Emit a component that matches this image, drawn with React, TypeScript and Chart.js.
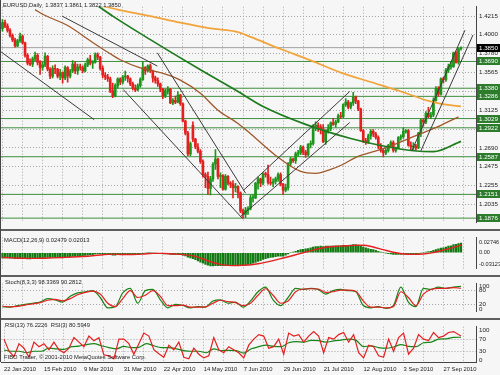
import React, { useEffect, useRef } from "react";
import { Chart, registerables } from "chart.js";

Chart.register(...registerables);

// ---------------- data ----------------
const dateLabels = ["22 Jan 2010", "15 Feb 2010", "9 Mar 2010", "31 Mar 2010", "22 Apr 2010", "14 May 2010", "7 Jun 2010", "29 Jun 2010", "21 Jul 2010", "12 Aug 2010", "3 Sep 2010", "27 Sep 2010"];
const dateLabelBars = [0, 16, 32, 48, 64, 80, 96, 112, 128, 144, 160, 176];
const gridBars = [0, 8, 16, 24, 32, 40, 48, 56, 64, 72, 80, 88, 96, 104, 112, 120, 128, 136, 144, 152, 160, 168, 176, 184];

const opens = [
  1.4070, 1.4140, 1.4100, 1.4050, 1.3990, 1.3940, 1.3870, 1.3930, 1.3985, 1.3905,
  1.3760, 1.3670, 1.3660, 1.3720, 1.3760, 1.3680, 1.3620, 1.3650, 1.3750, 1.3600,
  1.3520, 1.3610, 1.3600, 1.3520, 1.3560, 1.3500, 1.3620, 1.3520, 1.3580, 1.3660,
  1.3580, 1.3625, 1.3620, 1.3580, 1.3650, 1.3710, 1.3670, 1.3680, 1.3770, 1.3740,
  1.3610, 1.3530, 1.3510, 1.3490, 1.3350, 1.3290, 1.3410, 1.3490, 1.3450, 1.3510,
  1.3520, 1.3490, 1.3430, 1.3380, 1.3360, 1.3410, 1.3480, 1.3620, 1.3580, 1.3640,
  1.3580, 1.3500, 1.3470, 1.3430, 1.3370, 1.3290, 1.3350, 1.3370, 1.3210, 1.3240,
  1.3220, 1.3300, 1.3200, 1.3000, 1.2860, 1.2620, 1.2950, 1.2790, 1.2700, 1.2650,
  1.2530, 1.2380, 1.2360, 1.2220, 1.2330, 1.2500, 1.2560, 1.2360, 1.2370, 1.2210,
  1.2360, 1.2280, 1.2270, 1.2230, 1.2240, 1.2170, 1.1960, 1.1920, 1.1970, 1.1990,
  1.2110, 1.2110, 1.2280, 1.2330, 1.2280, 1.2390, 1.2380, 1.2290, 1.2280, 1.2300,
  1.2330, 1.2380, 1.2270, 1.2200, 1.2230, 1.2510, 1.2560, 1.2540, 1.2620, 1.2630,
  1.2700, 1.2640, 1.2610, 1.2730, 1.2740, 1.2940, 1.2950, 1.2930, 1.2910, 1.2760,
  1.2890, 1.2910, 1.2980, 1.2960, 1.2990, 1.3060, 1.3050, 1.3190, 1.3220, 1.3160,
  1.3210, 1.3280, 1.3230, 1.3140, 1.2890, 1.2770, 1.2750, 1.2830, 1.2880, 1.2850,
  1.2810, 1.2710, 1.2660, 1.2630, 1.2660, 1.2720, 1.2750, 1.2660, 1.2690, 1.2810,
  1.2820, 1.2880, 1.2890, 1.2720, 1.2700, 1.2710, 1.2690, 1.2860, 1.3010, 1.2990,
  1.3090, 1.3050, 1.3070, 1.3240, 1.3380, 1.3310, 1.3490, 1.3480, 1.3590, 1.3630,
  1.3630, 1.3790, 1.3680, 1.3837,
];
const highs = [
  1.4175, 1.4170, 1.4125, 1.4070, 1.4010, 1.3960, 1.3945, 1.4020, 1.3995, 1.3915,
  1.3780, 1.3720, 1.3740, 1.3800, 1.3780, 1.3700, 1.3680, 1.3790, 1.3760, 1.3620,
  1.3640, 1.3650, 1.3610, 1.3600, 1.3570, 1.3640, 1.3630, 1.3600, 1.3700, 1.3690,
  1.3660, 1.3660, 1.3640, 1.3670, 1.3730, 1.3760, 1.3700, 1.3790, 1.3790, 1.3750,
  1.3640, 1.3560, 1.3540, 1.3510, 1.3440, 1.3430, 1.3500, 1.3500, 1.3530, 1.3580,
  1.3530, 1.3500, 1.3450, 1.3420, 1.3430, 1.3500, 1.3690, 1.3630, 1.3650, 1.3660,
  1.3590, 1.3520, 1.3500, 1.3440, 1.3380, 1.3370, 1.3400, 1.3380, 1.3260, 1.3290,
  1.3340, 1.3310, 1.3210, 1.3010, 1.2880, 1.2760, 1.2990, 1.2800, 1.2740, 1.2670,
  1.2550, 1.2400, 1.2410, 1.2360, 1.2520, 1.2670, 1.2570, 1.2400, 1.2380, 1.2380,
  1.2370, 1.2300, 1.2310, 1.2280, 1.2250, 1.2180, 1.1980, 1.2000, 1.2010, 1.2140,
  1.2150, 1.2290, 1.2350, 1.2340, 1.2400, 1.2410, 1.2490, 1.2350, 1.2330, 1.2350,
  1.2400, 1.2400, 1.2280, 1.2270, 1.2520, 1.2580, 1.2570, 1.2640, 1.2660, 1.2720,
  1.2710, 1.2660, 1.2740, 1.2770, 1.2960, 1.2990, 1.2980, 1.2960, 1.2960, 1.2900,
  1.2960, 1.2990, 1.3030, 1.3010, 1.3080, 1.3100, 1.3200, 1.3260, 1.3240, 1.3220,
  1.3333, 1.3290, 1.3240, 1.3150, 1.2900, 1.2800, 1.2850, 1.2900, 1.2900, 1.2870,
  1.2830, 1.2740, 1.2680, 1.2680, 1.2730, 1.2770, 1.2770, 1.2700, 1.2820, 1.2840,
  1.2922, 1.2900, 1.2900, 1.2760, 1.2750, 1.2730, 1.2870, 1.3020, 1.3029, 1.3110,
  1.3160, 1.3100, 1.3270, 1.3400, 1.3400, 1.3500, 1.3510, 1.3610, 1.3660, 1.3690,
  1.3800, 1.3810, 1.3850, 1.3861,
];
const lows = [
  1.4040, 1.4080, 1.4030, 1.3970, 1.3920, 1.3855, 1.3860, 1.3910, 1.3890, 1.3740,
  1.3650, 1.3640, 1.3630, 1.3700, 1.3650, 1.3540, 1.3590, 1.3630, 1.3580, 1.3490,
  1.3500, 1.3550, 1.3500, 1.3480, 1.3440, 1.3480, 1.3450, 1.3500, 1.3560, 1.3550,
  1.3540, 1.3590, 1.3560, 1.3570, 1.3630, 1.3650, 1.3610, 1.3670, 1.3710, 1.3590,
  1.3500, 1.3480, 1.3460, 1.3330, 1.3270, 1.3280, 1.3380, 1.3420, 1.3430, 1.3470,
  1.3450, 1.3410, 1.3360, 1.3340, 1.3350, 1.3390, 1.3470, 1.3540, 1.3570, 1.3560,
  1.3450, 1.3440, 1.3400, 1.3340, 1.3260, 1.3270, 1.3310, 1.3200, 1.3190, 1.3200,
  1.3210, 1.3180, 1.2990, 1.2840, 1.2600, 1.2600, 1.2760, 1.2680, 1.2630, 1.2510,
  1.2350, 1.2230, 1.2150, 1.2145, 1.2300, 1.2440, 1.2330, 1.2230, 1.2200, 1.2200,
  1.2260, 1.2230, 1.2110, 1.2180, 1.2110, 1.1940, 1.1876, 1.1880, 1.1920, 1.1970,
  1.2060, 1.2100, 1.2210, 1.2240, 1.2260, 1.2350, 1.2270, 1.2260, 1.2240, 1.2270,
  1.2300, 1.2250, 1.2151, 1.2180, 1.2200, 1.2480, 1.2520, 1.2510, 1.2590, 1.2610,
  1.2610, 1.2580, 1.2600, 1.2690, 1.2720, 1.2890, 1.2880, 1.2850, 1.2750, 1.2730,
  1.2860, 1.2890, 1.2950, 1.2930, 1.2980, 1.3030, 1.3040, 1.3170, 1.3140, 1.3140,
  1.3180, 1.3200, 1.3120, 1.2880, 1.2750, 1.2730, 1.2740, 1.2790, 1.2820, 1.2790,
  1.2680, 1.2640, 1.2587, 1.2610, 1.2640, 1.2690, 1.2640, 1.2640, 1.2680, 1.2780,
  1.2800, 1.2860, 1.2710, 1.2660, 1.2660, 1.2660, 1.2680, 1.2820, 1.2940, 1.2970,
  1.3040, 1.3030, 1.3050, 1.3230, 1.3286, 1.3300, 1.3440, 1.3460, 1.3560, 1.3600,
  1.3620, 1.3670, 1.3660, 1.3822,
];
const closes = [
  1.4140, 1.4100, 1.4050, 1.3990, 1.3940, 1.3870, 1.3930, 1.3985, 1.3905, 1.3760,
  1.3670, 1.3660, 1.3720, 1.3760, 1.3680, 1.3620, 1.3650, 1.3750, 1.3600, 1.3520,
  1.3610, 1.3600, 1.3520, 1.3560, 1.3500, 1.3620, 1.3520, 1.3580, 1.3660, 1.3580,
  1.3625, 1.3620, 1.3580, 1.3650, 1.3710, 1.3670, 1.3680, 1.3770, 1.3740, 1.3610,
  1.3530, 1.3510, 1.3490, 1.3350, 1.3290, 1.3410, 1.3490, 1.3450, 1.3510, 1.3520,
  1.3490, 1.3430, 1.3380, 1.3360, 1.3410, 1.3480, 1.3620, 1.3580, 1.3640, 1.3580,
  1.3500, 1.3470, 1.3430, 1.3370, 1.3290, 1.3350, 1.3370, 1.3210, 1.3240, 1.3220,
  1.3300, 1.3200, 1.3000, 1.2860, 1.2620, 1.2740, 1.2790, 1.2700, 1.2650, 1.2530,
  1.2380, 1.2360, 1.2220, 1.2330, 1.2500, 1.2560, 1.2360, 1.2370, 1.2210, 1.2360,
  1.2280, 1.2270, 1.2230, 1.2240, 1.2170, 1.1960, 1.1920, 1.1970, 1.1990, 1.2110,
  1.2110, 1.2280, 1.2330, 1.2280, 1.2390, 1.2380, 1.2290, 1.2280, 1.2300, 1.2330,
  1.2380, 1.2270, 1.2200, 1.2230, 1.2510, 1.2560, 1.2540, 1.2620, 1.2630, 1.2700,
  1.2640, 1.2610, 1.2730, 1.2740, 1.2940, 1.2950, 1.2930, 1.2910, 1.2760, 1.2890,
  1.2910, 1.2980, 1.2960, 1.2990, 1.3060, 1.3050, 1.3190, 1.3220, 1.3160, 1.3210,
  1.3280, 1.3230, 1.3140, 1.2890, 1.2770, 1.2750, 1.2830, 1.2880, 1.2850, 1.2810,
  1.2710, 1.2660, 1.2630, 1.2660, 1.2720, 1.2750, 1.2660, 1.2690, 1.2810, 1.2820,
  1.2880, 1.2890, 1.2720, 1.2700, 1.2710, 1.2690, 1.2860, 1.3010, 1.2990, 1.3090,
  1.3050, 1.3070, 1.3240, 1.3380, 1.3310, 1.3490, 1.3480, 1.3590, 1.3630, 1.3630,
  1.3790, 1.3680, 1.3837, 1.3850,
];

const priceTicks = [1.4215, 1.4, 1.378, 1.3565, 1.3345, 1.3125, 1.2905, 1.269, 1.2475, 1.2255, 1.2035];
const levelPrices = [1.369, 1.338, 1.3286, 1.3029, 1.2922, 1.2587, 1.2151, 1.1876];
const bidPrice = 1.385;

// moving averages (bar index, price)
const maSlowBars = [30, 41, 46, 59, 71, 83, 94, 99, 111, 123, 135, 147, 159, 170, 177, 183];
const maSlow = [1.44, 1.4324, 1.4291, 1.4215, 1.4139, 1.4073, 1.403, 1.3975, 1.3834, 1.3703, 1.3561, 1.3452, 1.3343, 1.3234, 1.319, 1.3169];
const maMidBars = [38, 44, 59, 79, 94, 104, 121, 139, 152, 164, 172, 183];
const maMid = [1.4335, 1.4215, 1.3943, 1.3594, 1.3343, 1.3169, 1.2962, 1.2798, 1.2711, 1.2656, 1.2645, 1.2765];
const maFastBars = [13, 16, 26, 36, 43, 47, 55, 63, 71, 79, 86, 94, 99, 109, 119, 125, 131, 136, 141, 152, 165, 175, 182];
const maFast = [1.429, 1.4237, 1.4106, 1.391, 1.3779, 1.371, 1.3616, 1.3561, 1.3474, 1.3321, 1.3125, 1.2972, 1.2853, 1.2602, 1.2417, 1.2395, 1.244, 1.25, 1.258, 1.268, 1.2831, 1.2951, 1.3049];

// trend lines [bar, price] pairs
const lineA = [[-1, 1.381], [36.6, 1.3016]];
const lineB = [[23.8, 1.4215], [61.8, 1.3637]];
const lineC = [[61.8, 1.379], [97, 1.2166]];
const lineD = [[48.2, 1.3365], [95.8, 1.1872]];
const lineE = [[96.2, 1.2199], [138.6, 1.3343]];
const lineF = [[95, 1.1893], [138.6, 1.2983]];
const lineG = [[163.4, 1.2656], [184.6, 1.4052]];
const lineH = [[167, 1.2656], [187.8, 1.3997]];

// MACD (thousandths)
const macdHistMilli = [
  -13, -13, -13, -14, -14, -15, -15, -14, -14, -15, -16, -16,
  -15, -14, -14, -14, -13, -12, -12, -12, -12, -12, -12, -12,
  -12, -11, -11, -10, -9, -9, -8, -8, -8, -7, -6, -5,
  -5, -3, -2, -2, -3, -3, -4, -5, -6, -6, -5, -5,
  -4, -4, -4, -4, -4, -4, -4, -3, -2, -1, 0, 0,
  -1, -1, -2, -2, -3, -3, -3, -4, -4, -4, -4, -5,
  -6, -8, -11, -13, -15, -18, -21, -24, -27, -30, -32, -34,
  -34, -33, -33, -33, -33, -33, -32, -32, -31, -31, -31, -32,
  -32, -31, -30, -28, -27, -25, -22, -20, -17, -15, -13, -12,
  -11, -10, -9, -9, -9, -6, -3, 0, 2, 4, 6, 8,
  9, 10, 11, 13, 15, 16, 16, 17, 16, 17, 17, 17,
  17, 18, 18, 18, 19, 19, 19, 20, 21, 21, 20, 18,
  15, 13, 11, 9, 8, 6, 4, 2, 0, -1, -2, -3,
  -4, -4, -4, -4, -3, -3, -4, -4, -4, -4, -3, -1,
  0, 2, 3, 4, 6, 8, 10, 12, 13, 15, 17, 18,
  21, 22, 24, 25,
];
const macdSignalBars = [0, 4, 8, 12, 16, 20, 24, 28, 32, 36, 40, 44, 48, 52, 56, 60, 64, 68, 72, 76, 80, 84, 88, 92, 96, 100, 104, 108, 112, 116, 120, 124, 128, 132, 136, 140, 144, 148, 152, 156, 160, 164, 168, 172, 176, 180, 183];
const macdSignalMilli = [-12, -13, -14, -14.5, -14, -13, -12, -11, -9.5, -7.5, -5, -3.5, -4.5, -4.5, -3.5, -1.5, -1.5, -3, -4.5, -8, -16, -25, -31, -33, -32, -30, -26, -20, -13.5, -7, 0, 7, 13, 16, 17.5, 19, 19.5, 15, 8, 1.5, -3, -4, -3, 0.5, 7, 14, 20];

// Stochastic & RSI
const oscBars = [0, 3, 6, 9, 12, 15, 18, 21, 24, 27, 30, 33, 36, 39, 42, 45, 48, 51, 54, 57, 60, 63, 66, 69, 72, 75, 78, 81, 84, 87, 90, 93, 96, 99, 102, 105, 108, 111, 114, 117, 120, 123, 126, 129, 132, 135, 138, 141, 144, 147, 150, 153, 156, 159, 162, 165, 168, 171, 174, 177, 180, 183];
const stochMain = [10, 8, 15, 20, 25, 30, 45, 40, 30, 55, 70, 75, 80, 50, 5, 10, 70, 90, 25, 80, 85, 40, 5, 20, 15, 5, 10, 8, 35, 40, 25, 30, 8, 35, 75, 95, 40, 15, 50, 90, 85, 90, 85, 65, 80, 85, 80, 75, 15, 5, 10, 3, 15, 95, 30, 10, 90, 85, 95, 90, 95, 98.3];
const stochSignal = [12, 9, 11, 17, 22, 28, 38, 42, 35, 45, 62, 72, 78, 65, 25, 10, 45, 80, 50, 60, 80, 55, 15, 15, 17, 8, 8, 9, 25, 38, 32, 28, 15, 25, 60, 88, 60, 25, 35, 75, 87, 88, 87, 72, 75, 82, 82, 77, 35, 8, 8, 5, 10, 75, 50, 15, 65, 85, 90, 90, 93, 90.3];
const rsi13 = [34, 30, 30, 25, 30, 30, 40, 38, 36, 45, 47, 52, 55, 48, 42, 38, 46, 42, 43, 55, 48, 42, 42, 38, 32, 30, 30, 25, 38, 32, 33, 32, 24, 38, 45, 50, 46, 45, 58, 62, 60, 66, 65, 60, 64, 67, 70, 66, 45, 48, 42, 40, 44, 52, 46, 45, 58, 60, 70, 71, 76, 76.2];
const rsi3Bars = [0, 2, 4, 6, 8, 10, 12, 14, 16, 18, 20, 22, 24, 26, 28, 30, 32, 34, 36, 38, 40, 42, 44, 46, 48, 50, 52, 54, 56, 58, 60, 62, 64, 66, 68, 70, 72, 74, 76, 78, 80, 82, 84, 86, 88, 90, 92, 94, 96, 98, 100, 102, 104, 106, 108, 110, 112, 114, 116, 118, 120, 122, 124, 126, 128, 130, 132, 134, 136, 138, 140, 142, 144, 146, 148, 150, 152, 154, 156, 158, 160, 162, 164, 166, 168, 170, 172, 174, 176, 178, 180, 182, 183];
const rsi3 = [70, 30, 12, 55, 40, 10, 60, 45, 55, 35, 60, 35, 25, 40, 75, 60, 45, 80, 65, 75, 18, 15, 5, 70, 70, 55, 20, 55, 90, 80, 35, 22, 10, 50, 35, 60, 10, 5, 40, 20, 8, 15, 75, 35, 25, 45, 35, 25, 8, 50, 70, 85, 80, 40, 45, 70, 20, 90, 80, 85, 60, 80, 95, 80, 25, 75, 70, 85, 92, 60, 85, 25, 8, 50, 45, 15, 10, 70, 30, 75, 90, 20, 40, 85, 70, 65, 92, 75, 80, 92, 95, 85, 80.6];

// ---------------- style ----------------
const FONT = "'Liberation Sans', Arial, sans-serif";
const BG = "#f6f6f6";
const GRID = "#a6a6a6";
const TEXT = "#1c1c1c";
const FRAME = "#454545";
const BULL = "#1b961b";
const BEAR = "#e41f1f";
const LEVEL = "#3f8f3f";
const LEVEL_BOX = "#2c7c2c";
const GREEN_LINE = "#178517";
const RED_LINE = "#e42020";
const X_MIN = -1;
const X_MAX = 189;
const AXIS_W = 24;

function xAxis(showLabels: boolean) {
  return {
    type: "linear",
    min: X_MIN,
    max: X_MAX,
    offset: false,
    grid: { color: GRID, lineWidth: 1, drawTicks: false, offset: false },
    border: { display: showLabels, color: FRAME, width: 1, dash: [1, 2] },
    ticks: showLabels
      ? {
          display: true,
          autoSkip: false,
          maxRotation: 0,
          align: "start",
          padding: 4,
          color: TEXT,
          font: { family: FONT, size: 5.8 },
          callback: (v: any) => {
            const k = dateLabelBars.indexOf(Number(v));
            return k >= 0 ? dateLabels[k] : "";
          },
        }
      : { display: false },
    afterBuildTicks: (s: any) => {
      s.ticks = gridBars.map((v) => ({ value: v }));
    },
    afterFit: (s: any) => {
      s.height = showLabels ? 13 : 0;
    },
  };
}

function yAxis(min: number, max: number, ticks: number[], fmt: (v: number) => string, gridLevels: number[] | null, size = 6.2) {
  return {
    type: "linear",
    position: "right",
    min,
    max,
    afterBuildTicks: (s: any) => {
      s.ticks = ticks.map((v) => ({ value: v }));
    },
    afterFit: (s: any) => {
      s.width = AXIS_W;
    },
    ticks: {
      autoSkip: false,
      padding: 3,
      color: TEXT,
      font: { family: FONT, size },
      callback: (v: any) => fmt(Number(v)),
    },
    grid: {
      drawTicks: false,
      color: (c: any) => {
        if (!gridLevels) return GRID;
        const v = c.tick ? c.tick.value : null;
        return gridLevels.indexOf(v) >= 0 ? GRID : "rgba(0,0,0,0)";
      },
    },
    border: { display: true, color: FRAME, width: 1, dash: [1, 2] },
  };
}

const baseOptions = {
  responsive: false,
  animation: false,
  devicePixelRatio: 1,
  events: [],
  layout: { padding: 0, autoPadding: false },
  plugins: { legend: { display: false }, tooltip: { enabled: false } },
};

function textPlugin(id: string, draw: (chart: any, ctx: CanvasRenderingContext2D) => void) {
  return {
    id,
    afterDraw(chart: any) {
      const ctx = chart.ctx;
      ctx.save();
      ctx.textBaseline = "middle";
      ctx.textAlign = "left";
      draw(chart, ctx);
      ctx.restore();
    },
  };
}

function pts(bars: number[], vals: number[], scale = 1) {
  return bars.map((b, i) => ({ x: b, y: vals[i] * scale }));
}
function segment(p: number[][]) {
  return p.map(([x, y]) => ({ x, y }));
}
function lineDs(data: any[], color: string, width: number, order: number, tension = 0) {
  return {
    type: "line",
    data,
    borderColor: color,
    borderWidth: width,
    pointRadius: 0,
    tension,
    cubicInterpolationMode: tension ? "monotone" : "default",
    order,
    fill: false,
  };
}

function mainConfig(): any {
  const colors = closes.map((c, i) => (c >= opens[i] ? BULL : BEAR));
  const datasets: any[] = [];
  levelPrices.forEach((v) => datasets.push(lineDs([{ x: X_MIN, y: v }, { x: X_MAX, y: v }], LEVEL, 1, 20)));
  datasets.push(lineDs([{ x: X_MIN, y: bidPrice }, { x: X_MAX, y: bidPrice }], "#a0a0a0", 1, 20));
  datasets.push({
    type: "bar",
    data: highs.map((h, i) => ({ x: i, y: [lows[i], h] })),
    backgroundColor: colors,
    barThickness: 1,
    grouped: false,
    order: 11,
  });
  datasets.push({
    type: "bar",
    data: opens.map((o, i) => ({ x: i, y: [o, closes[i]] })),
    backgroundColor: colors,
    barThickness: 2,
    minBarLength: 1,
    grouped: false,
    order: 10,
  });
  datasets.push(lineDs(pts(maSlowBars, maSlow), "#f2a33a", 1.7, 3, 0.4));
  datasets.push(lineDs(pts(maMidBars, maMid), "#1e7b1e", 1.7, 3, 0.4));
  datasets.push(lineDs(pts(maFastBars, maFast), "#a0582a", 1.3, 3, 0.4));
  [lineA, lineB, lineC, lineD, lineE, lineF, lineG, lineH].forEach((l) =>
    datasets.push(lineDs(segment(l), "#3a3a3a", 1, 2))
  );
  return {
    type: "bar",
    data: { datasets },
    options: {
      ...baseOptions,
      scales: {
        x: xAxis(false),
        y: yAxis(1.1828, 1.4324, priceTicks, (v) => v.toFixed(4), null),
      },
    },
    plugins: [
      textPlugin("mainText", (chart, ctx) => {
        const y = chart.scales.y;
        ctx.fillStyle = TEXT;
        ctx.font = `5.8px ${FONT}`;
        ctx.fillText("EURUSD,Daily  1.3837 1.3861 1.3822 1.3850", 3, 5);
        ctx.font = `6.2px ${FONT}`;
        levelPrices.forEach((v) => {
          const py = Math.round(y.getPixelForValue(v));
          ctx.fillStyle = LEVEL_BOX;
          ctx.fillRect(477, py - 4, 23, 8);
          ctx.fillStyle = "#ffffff";
          ctx.fillText(v.toFixed(4), 479, py);
        });
        const by = Math.round(y.getPixelForValue(bidPrice));
        ctx.fillStyle = "#000000";
        ctx.fillRect(477, by - 4, 23, 8);
        ctx.fillStyle = "#ffffff";
        ctx.fillText(bidPrice.toFixed(4), 479, by);
      }),
    ],
  };
}

function macdConfig(): any {
  return {
    type: "bar",
    data: {
      datasets: [
        {
          type: "bar",
          data: macdHistMilli.map((v, i) => ({ x: i, y: v / 1000 })),
          backgroundColor: "#127a12",
          barThickness: 1.6,
          grouped: false,
          order: 2,
        },
        lineDs(pts(macdSignalBars, macdSignalMilli, 1 / 1000), RED_LINE, 1.4, 1, 0.4),
      ],
    },
    options: {
      ...baseOptions,
      scales: {
        x: xAxis(false),
        y: yAxis(-0.0408, 0.0397, [0.02746, 0, -0.03123], (v) => (v === 0 ? "0.00" : v.toFixed(5)), [], 5.6),
      },
    },
    plugins: [
      textPlugin("macdText", (chart, ctx) => {
        ctx.fillStyle = TEXT;
        ctx.font = `5.8px ${FONT}`;
        ctx.fillText("MACD(12,26,9) 0.02479 0.02013", 4, 9);
      }),
    ],
  };
}

function stochConfig(): any {
  return {
    type: "line",
    data: {
      datasets: [
        lineDs(pts(oscBars, stochSignal), RED_LINE, 1.2, 1, 0.35),
        lineDs(pts(oscBars, stochMain), GREEN_LINE, 1.2, 2, 0.35),
      ],
    },
    options: {
      ...baseOptions,
      scales: {
        x: xAxis(false),
        y: yAxis(-10, 110, [100, 80, 20, 0], (v) => String(v), [80, 20]),
      },
    },
    plugins: [
      textPlugin("stochText", (chart, ctx) => {
        ctx.fillStyle = TEXT;
        ctx.font = `5.8px ${FONT}`;
        ctx.fillText("Stoch(8,3,3) 98.3369 90.2812", 5, 5);
      }),
    ],
  };
}

function rsiConfig(): any {
  return {
    type: "line",
    data: {
      datasets: [
        lineDs(pts(rsi3Bars, rsi3), RED_LINE, 1.2, 1, 0),
        lineDs(pts(oscBars, rsi13), GREEN_LINE, 1.2, 2, 0.3),
      ],
    },
    options: {
      ...baseOptions,
      scales: {
        x: xAxis(true),
        y: yAxis(-5.6, 111, [100, 70, 30, 0], (v) => String(v), [70, 30]),
      },
    },
    plugins: [
      textPlugin("rsiText", (chart, ctx) => {
        ctx.fillStyle = TEXT;
        ctx.font = `5.8px ${FONT}`;
        ctx.fillText("RSI(13) 76.2226  RSI(3) 80.5949", 5, 5);
        ctx.fillText("FIBO Trader, \u00A9 2001-2010 MetaQuotes Software Corp.", 4, 37);
      }),
    ],
  };
}

export default function App() {
  const mainRef = useRef<HTMLCanvasElement>(null);
  const macdRef = useRef<HTMLCanvasElement>(null);
  const stochRef = useRef<HTMLCanvasElement>(null);
  const rsiRef = useRef<HTMLCanvasElement>(null);

  useEffect(() => {
    const charts = [
      new Chart(mainRef.current as HTMLCanvasElement, mainConfig()),
      new Chart(macdRef.current as HTMLCanvasElement, macdConfig()),
      new Chart(stochRef.current as HTMLCanvasElement, stochConfig()),
      new Chart(rsiRef.current as HTMLCanvasElement, rsiConfig()),
    ];
    return () => charts.forEach((c) => c.destroy());
  }, []);

  const abs = (top: number, height: number): React.CSSProperties => ({
    position: "absolute",
    left: 0,
    top,
    width: 500,
    height,
  });
  const sep = (top: number): React.CSSProperties => ({ ...abs(top, 2), background: "#5e5e5e" });

  return (
    <div style={{ position: "fixed", left: 0, top: 0, width: 500, height: 375, background: BG, overflow: "hidden" }}>
      <canvas ref={mainRef} width={500} height={229} style={abs(0, 229)} />
      <div style={sep(229)} />
      <canvas ref={macdRef} width={500} height={44} style={abs(231, 44)} />
      <div style={sep(275)} />
      <canvas ref={stochRef} width={500} height={41} style={abs(277, 41)} />
      <div style={sep(318)} />
      <canvas ref={rsiRef} width={500} height={55} style={abs(320, 55)} />
      <div style={{ position: "absolute", left: 0, top: 0, width: 1, height: 362, background: FRAME }} />
    </div>
  );
}
